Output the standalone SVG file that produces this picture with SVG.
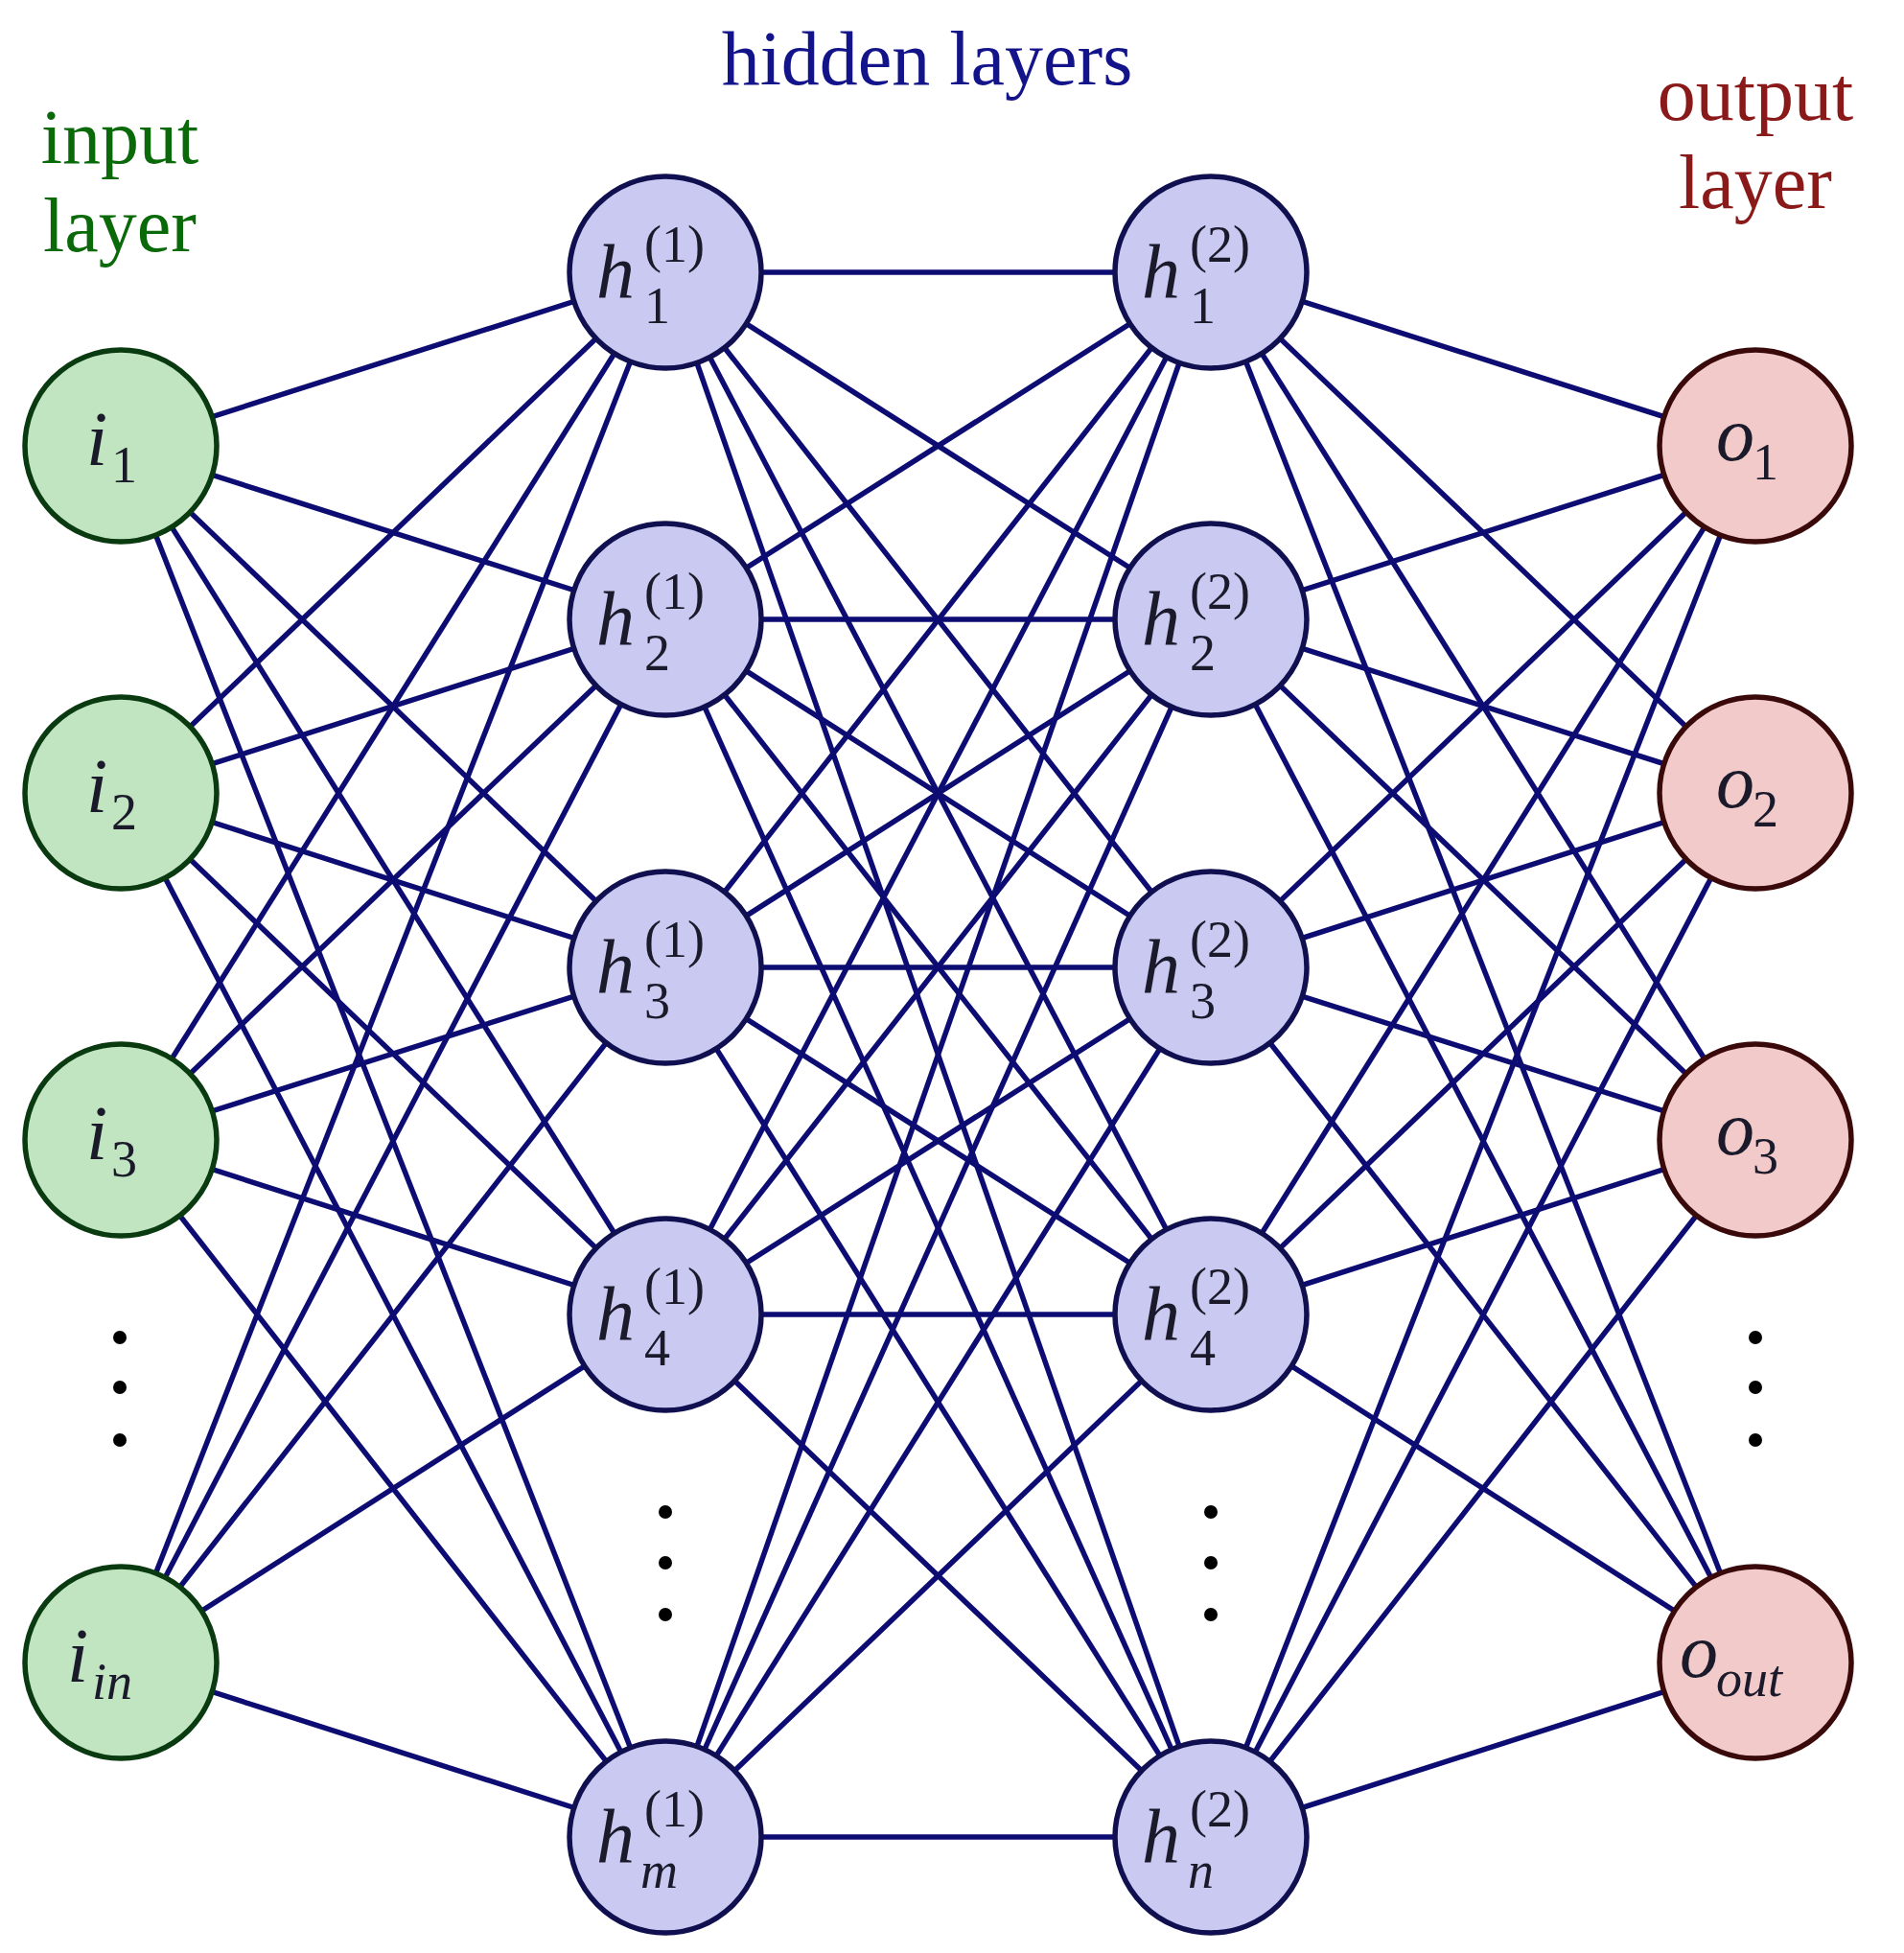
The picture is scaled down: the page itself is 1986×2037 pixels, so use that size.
<svg xmlns="http://www.w3.org/2000/svg" width="1986" height="2037" viewBox="0 0 1986 2037">
<style>
.c line{stroke:#0c0c72;stroke-width:5.5}
.in{fill:#c0e5c0;stroke:#0a3a10;stroke-width:5.5}
.hd{fill:#c9c9f2;stroke:#101050;stroke-width:5.5}
.ou{fill:#f2caca;stroke:#3a0a0a;stroke-width:5.5}
.m{font-family:"Liberation Serif",serif;font-style:italic;font-size:80px;fill:#1a1a2a}
.s{font-family:"Liberation Serif",serif;font-size:54px;fill:#1a1a2a}
.si{font-family:"Liberation Serif",serif;font-style:italic;font-size:54px;fill:#1a1a2a}
.t{font-family:"Liberation Serif",serif;font-size:80px;text-anchor:middle}
</style>
<rect width="1986" height="2037" fill="#fff"/>
<text class="t" x="967" y="88" fill="#14148a">hidden layers</text>
<text class="t" x="125" y="170" fill="#0a6a0a">input</text>
<text class="t" x="125" y="262" fill="#0a6a0a">layer</text>
<text class="t" x="1831" y="125" fill="#8a1a1a">output</text>
<text class="t" x="1831" y="217" fill="#8a1a1a">layer</text>
<g class="c" id="connectors">
<line x1="126" y1="465" x2="694" y2="284"/><line x1="126" y1="465" x2="694" y2="646"/><line x1="126" y1="465" x2="694" y2="1009"/><line x1="126" y1="465" x2="694" y2="1371"/><line x1="126" y1="465" x2="694" y2="1916"/>
<line x1="126" y1="827" x2="694" y2="284"/><line x1="126" y1="827" x2="694" y2="646"/><line x1="126" y1="827" x2="694" y2="1009"/><line x1="126" y1="827" x2="694" y2="1371"/><line x1="126" y1="827" x2="694" y2="1916"/>
<line x1="126" y1="1189" x2="694" y2="284"/><line x1="126" y1="1189" x2="694" y2="646"/><line x1="126" y1="1189" x2="694" y2="1009"/><line x1="126" y1="1189" x2="694" y2="1371"/><line x1="126" y1="1189" x2="694" y2="1916"/>
<line x1="126" y1="1734" x2="694" y2="284"/><line x1="126" y1="1734" x2="694" y2="646"/><line x1="126" y1="1734" x2="694" y2="1009"/><line x1="126" y1="1734" x2="694" y2="1371"/><line x1="126" y1="1734" x2="694" y2="1916"/>
<line x1="694" y1="284" x2="1263" y2="284"/><line x1="694" y1="284" x2="1263" y2="646"/><line x1="694" y1="284" x2="1263" y2="1009"/><line x1="694" y1="284" x2="1263" y2="1371"/><line x1="694" y1="284" x2="1263" y2="1916"/>
<line x1="694" y1="646" x2="1263" y2="284"/><line x1="694" y1="646" x2="1263" y2="646"/><line x1="694" y1="646" x2="1263" y2="1009"/><line x1="694" y1="646" x2="1263" y2="1371"/><line x1="694" y1="646" x2="1263" y2="1916"/>
<line x1="694" y1="1009" x2="1263" y2="284"/><line x1="694" y1="1009" x2="1263" y2="646"/><line x1="694" y1="1009" x2="1263" y2="1009"/><line x1="694" y1="1009" x2="1263" y2="1371"/><line x1="694" y1="1009" x2="1263" y2="1916"/>
<line x1="694" y1="1371" x2="1263" y2="284"/><line x1="694" y1="1371" x2="1263" y2="646"/><line x1="694" y1="1371" x2="1263" y2="1009"/><line x1="694" y1="1371" x2="1263" y2="1371"/><line x1="694" y1="1371" x2="1263" y2="1916"/>
<line x1="694" y1="1916" x2="1263" y2="284"/><line x1="694" y1="1916" x2="1263" y2="646"/><line x1="694" y1="1916" x2="1263" y2="1009"/><line x1="694" y1="1916" x2="1263" y2="1371"/><line x1="694" y1="1916" x2="1263" y2="1916"/>
<line x1="1263" y1="284" x2="1831" y2="465"/><line x1="1263" y1="284" x2="1831" y2="827"/><line x1="1263" y1="284" x2="1831" y2="1189"/><line x1="1263" y1="284" x2="1831" y2="1734"/>
<line x1="1263" y1="646" x2="1831" y2="465"/><line x1="1263" y1="646" x2="1831" y2="827"/><line x1="1263" y1="646" x2="1831" y2="1189"/><line x1="1263" y1="646" x2="1831" y2="1734"/>
<line x1="1263" y1="1009" x2="1831" y2="465"/><line x1="1263" y1="1009" x2="1831" y2="827"/><line x1="1263" y1="1009" x2="1831" y2="1189"/><line x1="1263" y1="1009" x2="1831" y2="1734"/>
<line x1="1263" y1="1371" x2="1831" y2="465"/><line x1="1263" y1="1371" x2="1831" y2="827"/><line x1="1263" y1="1371" x2="1831" y2="1189"/><line x1="1263" y1="1371" x2="1831" y2="1734"/>
<line x1="1263" y1="1916" x2="1831" y2="465"/><line x1="1263" y1="1916" x2="1831" y2="827"/><line x1="1263" y1="1916" x2="1831" y2="1189"/><line x1="1263" y1="1916" x2="1831" y2="1734"/>
</g>
<g id="i1"><circle class="in" cx="126" cy="465" r="100"/><text class="m" x="90" y="485">i</text><text class="s" x="116" y="503">1</text></g>
<g id="i2"><circle class="in" cx="126" cy="827" r="100"/><text class="m" x="90" y="847">i</text><text class="s" x="116" y="865">2</text></g>
<g id="i3"><circle class="in" cx="126" cy="1189" r="100"/><text class="m" x="90" y="1209">i</text><text class="s" x="116" y="1227">3</text></g>
<g id="iin"><circle class="in" cx="126" cy="1734" r="100"/><text class="m" x="70" y="1754">i</text><text class="si" x="96" y="1772">in</text></g>
<g id="h11"><circle class="hd" cx="694" cy="284" r="100"/><text class="m" x="622" y="310">h</text><text class="s" x="672" y="337">1</text><text class="s" x="672" y="273">(1)</text></g>
<g id="h12"><circle class="hd" cx="694" cy="646" r="100"/><text class="m" x="622" y="672">h</text><text class="s" x="672" y="699">2</text><text class="s" x="672" y="635">(1)</text></g>
<g id="h13"><circle class="hd" cx="694" cy="1009" r="100"/><text class="m" x="622" y="1035">h</text><text class="s" x="672" y="1062">3</text><text class="s" x="672" y="998">(1)</text></g>
<g id="h14"><circle class="hd" cx="694" cy="1371" r="100"/><text class="m" x="622" y="1397">h</text><text class="s" x="672" y="1424">4</text><text class="s" x="672" y="1360">(1)</text></g>
<g id="h1m"><circle class="hd" cx="694" cy="1916" r="100"/><text class="m" x="622" y="1942">h</text><text class="si" x="668" y="1969">m</text><text class="s" x="672" y="1905">(1)</text></g>
<g id="h21"><circle class="hd" cx="1263" cy="284" r="100"/><text class="m" x="1191" y="310">h</text><text class="s" x="1241" y="337">1</text><text class="s" x="1241" y="273">(2)</text></g>
<g id="h22"><circle class="hd" cx="1263" cy="646" r="100"/><text class="m" x="1191" y="672">h</text><text class="s" x="1241" y="699">2</text><text class="s" x="1241" y="635">(2)</text></g>
<g id="h23"><circle class="hd" cx="1263" cy="1009" r="100"/><text class="m" x="1191" y="1035">h</text><text class="s" x="1241" y="1062">3</text><text class="s" x="1241" y="998">(2)</text></g>
<g id="h24"><circle class="hd" cx="1263" cy="1371" r="100"/><text class="m" x="1191" y="1397">h</text><text class="s" x="1241" y="1424">4</text><text class="s" x="1241" y="1360">(2)</text></g>
<g id="h2n"><circle class="hd" cx="1263" cy="1916" r="100"/><text class="m" x="1191" y="1942">h</text><text class="si" x="1239" y="1969">n</text><text class="s" x="1241" y="1905">(2)</text></g>
<g id="o1"><circle class="ou" cx="1831" cy="465" r="100"/><text class="m" x="1790" y="480">o</text><text class="s" x="1828" y="500">1</text></g>
<g id="o2"><circle class="ou" cx="1831" cy="827" r="100"/><text class="m" x="1790" y="842">o</text><text class="s" x="1828" y="862">2</text></g>
<g id="o3"><circle class="ou" cx="1831" cy="1189" r="100"/><text class="m" x="1790" y="1204">o</text><text class="s" x="1828" y="1224">3</text></g>
<g id="oout"><circle class="ou" cx="1831" cy="1734" r="100"/><text class="m" x="1752" y="1749">o</text><text class="si" x="1790" y="1769">out</text></g>
<g fill="#000">
<circle cx="125" cy="1395" r="7"/><circle cx="125" cy="1447" r="7"/><circle cx="125" cy="1502" r="7"/>
<circle cx="694" cy="1577" r="7"/><circle cx="694" cy="1630" r="7"/><circle cx="694" cy="1684" r="7"/>
<circle cx="1263" cy="1577" r="7"/><circle cx="1263" cy="1630" r="7"/><circle cx="1263" cy="1684" r="7"/>
<circle cx="1831" cy="1395" r="7"/><circle cx="1831" cy="1447" r="7"/><circle cx="1831" cy="1502" r="7"/>
</g>
</svg>
